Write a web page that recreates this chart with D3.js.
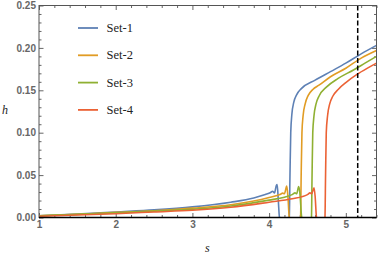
<!DOCTYPE html>
<html>
<head>
<meta charset="utf-8">
<script src="https://cdn.jsdelivr.net/npm/d3@7"></script>
<style>
  body { margin: 0; background: #fff; }
  .tick text { font-family: "Liberation Sans", Arial, sans-serif; font-size: 10px; font-weight: bold; fill: #666; }
</style>
</head>
<body>
<div class="canvas"></div>
<script>
// series names and colours
var seriesNames = ["Set-1", "Set-2", "Set-3", "Set-4"];
var seriesColors = ["#5E81B5", "#E19C24", "#8FB032", "#EB6235"];

// [s, h] points
var set1 = [[1, 0.002], [1.5, 0.004], [2, 0.0065], [2.5, 0.009], [3, 0.0125], [3.5, 0.018],
  [3.8, 0.023], [3.95, 0.027], [4.02, 0.0295], [4.045, 0.031], [4.07, 0.029], [4.095, 0.038],
  [4.105, 0.039], [4.12, 0.02], [4.135, 0], [4.15, -0.003], [4.245, -0.003], [4.263, 0],
  [4.272, 0.05], [4.282, 0.10], [4.297, 0.122], [4.322, 0.136], [4.36, 0.145], [4.42, 0.152],
  [4.6, 0.162], [4.8, 0.172], [5.0, 0.182], [5.2, 0.193], [5.4, 0.203]];
var set2 = [[1, 0.002], [1.5, 0.0037], [2, 0.006], [2.5, 0.008], [3, 0.011], [3.5, 0.015],
  [4, 0.0235], [4.15, 0.0275], [4.177, 0.0287], [4.2, 0.028], [4.23, 0.037], [4.245, 0.025],
  [4.263, 0], [4.28, -0.003], [4.39, -0.003], [4.41, 0], [4.418, 0.05], [4.428, 0.10],
  [4.443, 0.12], [4.47, 0.134], [4.51, 0.144], [4.57, 0.151], [4.65, 0.156], [4.8, 0.166],
  [5.0, 0.176], [5.2, 0.188], [5.4, 0.197]];
var set3 = [[1, 0.002], [2, 0.0055], [2.5, 0.0075], [3, 0.0098], [3.5, 0.0135], [4, 0.0205],
  [4.2, 0.024], [4.3, 0.027], [4.338, 0.029], [4.36, 0.028], [4.385, 0.0365], [4.4, 0.03],
  [4.425, 0], [4.44, -0.003], [4.535, -0.003], [4.552, 0], [4.56, 0.05], [4.569, 0.10],
  [4.585, 0.12], [4.612, 0.134], [4.65, 0.143], [4.75, 0.154], [4.9, 0.164], [5.1, 0.174],
  [5.25, 0.182], [5.4, 0.19]];
var set4 = [[1, 0.0015], [2, 0.0045], [2.5, 0.0065], [3, 0.0085], [3.5, 0.012], [4, 0.018],
  [4.3, 0.022], [4.5, 0.027], [4.533, 0.029], [4.555, 0.028], [4.585, 0.035], [4.6, 0.025],
  [4.618, 0], [4.635, -0.003], [4.71, -0.003], [4.728, 0], [4.736, 0.05], [4.745, 0.10],
  [4.762, 0.12], [4.79, 0.134], [4.83, 0.143], [4.9, 0.151], [5.0, 0.159], [5.15, 0.169],
  [5.3, 0.177], [5.4, 0.182]];
var allSets = [set1, set2, set3, set4];

// ticks and the dashed marker
var xTicks = [1, 2, 3, 4, 5];
var yTicks = [0, 0.05, 0.10, 0.15, 0.20, 0.25];
var yTickLabels = ["0.00", "0.05", "0.10", "0.15", "0.20", "0.25"];
var dashS = 5.155;

var width = 379, height = 259;
// plot frame (top/left are window globals, so use other names)
var pL = 39, pR = 376.5, pT = 5.5, pB = 217.5;

var svg = d3.select(".canvas").append("svg")
  .attr("width", width)
  .attr("height", height);

var x = d3.scaleLinear().domain([1, 5.4]).range([pL, pR]);
var y = d3.scaleLinear().domain([0, 0.25]).range([pB, pT]);

// minor ticks
var xMinor = d3.range(1, 5.41, 0.2).filter(function(v){ return Math.abs(v - Math.round(v)) > 0.01; });
var yMinor = d3.range(0, 0.2501, 0.01).filter(function(v){ return Math.abs(v * 20 - Math.round(v * 20)) > 0.01; });

function styleAxis(g) {
  g.select(".domain").remove();
  g.selectAll(".tick line").attr("stroke", "#666");
}

// bottom
svg.append("g").attr("transform", "translate(0," + pB + ")")
  .call(d3.axisBottom(x).tickValues(xTicks).tickSizeInner(-4.5).tickPadding(3).tickFormat(d3.format("d")))
  .call(styleAxis);
svg.append("g").attr("transform", "translate(0," + pB + ")")
  .call(d3.axisBottom(x).tickValues(xMinor).tickSizeInner(-2.5).tickFormat(""))
  .call(styleAxis);
// top
svg.append("g").attr("transform", "translate(0," + pT + ")")
  .call(d3.axisTop(x).tickValues(xTicks).tickSizeInner(-4.5).tickFormat(""))
  .call(styleAxis);
svg.append("g").attr("transform", "translate(0," + pT + ")")
  .call(d3.axisTop(x).tickValues(xMinor).tickSizeInner(-2.5).tickFormat(""))
  .call(styleAxis);
// left
svg.append("g").attr("transform", "translate(" + pL + ",0)")
  .call(d3.axisLeft(y).tickValues(yTicks).tickSizeInner(-4.5).tickPadding(3)
    .tickFormat(function(d, i){ return yTickLabels[i]; }))
  .call(styleAxis);
svg.append("g").attr("transform", "translate(" + pL + ",0)")
  .call(d3.axisLeft(y).tickValues(yMinor).tickSizeInner(-2.5).tickFormat(""))
  .call(styleAxis);
// right
svg.append("g").attr("transform", "translate(" + pR + ",0)")
  .call(d3.axisRight(y).tickValues(yTicks).tickSizeInner(-4.5).tickFormat(""))
  .call(styleAxis);
svg.append("g").attr("transform", "translate(" + pR + ",0)")
  .call(d3.axisRight(y).tickValues(yMinor).tickSizeInner(-2.5).tickFormat(""))
  .call(styleAxis);

// clip the curves to the frame
svg.append("clipPath").attr("id", "plotclip")
  .append("rect")
  .attr("x", pL).attr("y", pT)
  .attr("width", pR - pL).attr("height", pB - pT);

var line = d3.line()
  .x(function(d){ return x(d[0]); })
  .y(function(d){ return y(d[1]); })
  .curve(d3.curveMonotoneX);

var curves = svg.append("g").attr("clip-path", "url(#plotclip)");
allSets.forEach(function(set, i) {
  curves.append("path")
    .datum(set)
    .attr("d", line)
    .attr("fill", "none")
    .attr("stroke", seriesColors[i])
    .attr("stroke-width", 1.6)
    .attr("stroke-linejoin", "round");
});

// dashed marker
svg.append("line")
  .attr("x1", x(dashS)).attr("x2", x(dashS))
  .attr("y1", pT).attr("y2", pB)
  .attr("stroke", "#000")
  .attr("stroke-width", 1.5)
  .attr("stroke-dasharray", "5,2.5");

// frame
svg.append("rect")
  .attr("x", pL).attr("y", pT)
  .attr("width", pR - pL).attr("height", pB - pT)
  .attr("fill", "none")
  .attr("stroke", "#555")
  .attr("stroke-width", 1);
svg.append("line")
  .attr("x1", pL).attr("x2", pR)
  .attr("y1", pB).attr("y2", pB)
  .attr("stroke", "#000")
  .attr("stroke-width", 1.4);

// legend
var legend = svg.append("g");
seriesNames.forEach(function(name, i) {
  var ly = 28 + i * 27.3;
  legend.append("line")
    .attr("x1", 78).attr("x2", 98)
    .attr("y1", ly).attr("y2", ly)
    .attr("stroke", seriesColors[i])
    .attr("stroke-width", 1.8);
  legend.append("text")
    .text(name)
    .attr("x", 106.5).attr("y", ly + 4)
    .attr("font-family", "Liberation Serif, serif")
    .attr("font-size", 12.5)
    .attr("fill", "#222");
});

// axis labels
svg.append("text")
  .text("h")
  .attr("x", 2).attr("y", 114)
  .attr("font-family", "Liberation Serif, serif")
  .attr("font-style", "italic")
  .attr("font-size", 12)
  .attr("fill", "#222");
svg.append("text")
  .text("s")
  .attr("x", 205).attr("y", 252)
  .attr("font-family", "Liberation Serif, serif")
  .attr("font-style", "italic")
  .attr("font-size", 12)
  .attr("fill", "#222");
</script>
</body>
</html>
